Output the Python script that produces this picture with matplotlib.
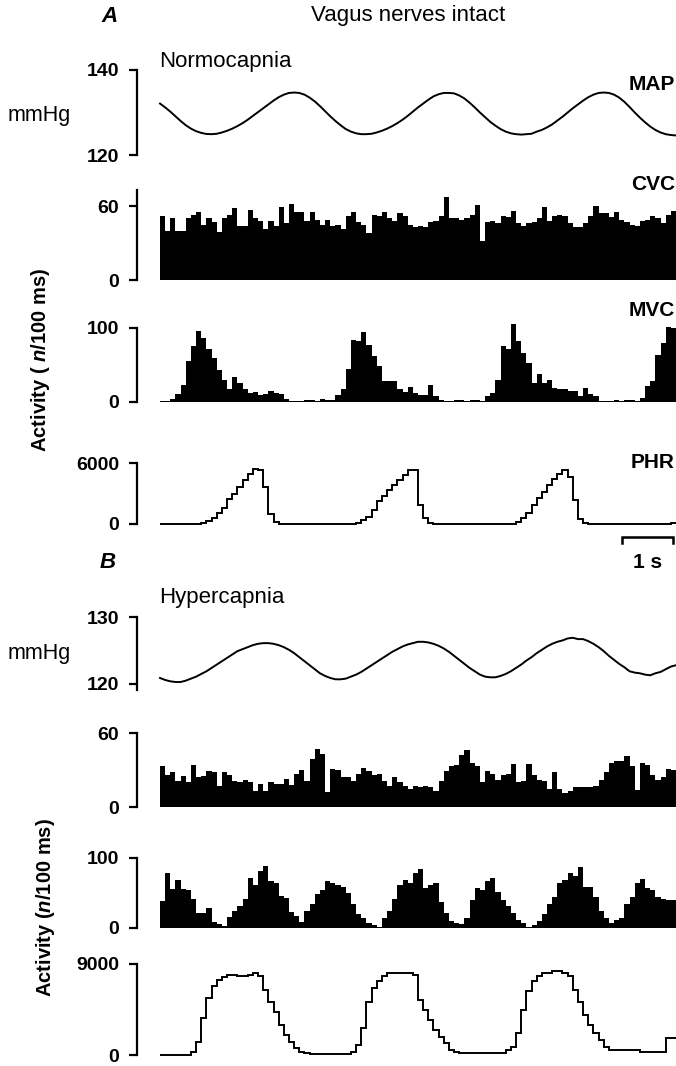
import numpy as np
import matplotlib.pyplot as plt

plt.rcParams['font.family'] = ['Liberation Sans', 'DejaVu Sans']
plt.rcParams['mathtext.fontset'] = 'custom'
plt.rcParams['mathtext.it'] = 'Liberation Sans:italic:bold'
plt.rcParams['mathtext.rm'] = 'Liberation Sans:bold'

# time base: 100 ms bins over 10 s
bin_edges = np.linspace(0, 10, 101)
t_map = np.linspace(0, 10, 101)

# A: vagus intact, normocapnia
map_a = [132.1, 131.2, 130.2, 129.1, 128.0, 127.0, 126.2, 125.6, 125.2, 124.95,
         124.9, 125.0, 125.3, 125.7, 126.2, 126.8, 127.5, 128.3, 129.2, 130.1,
         131.0, 131.9, 132.8, 133.6, 134.2, 134.6, 134.7, 134.6, 134.2, 133.5,
         132.6, 131.5, 130.3, 129.1, 128.0, 127.0, 126.1, 125.5, 125.1, 124.9,
         124.9, 125.0, 125.3, 125.7, 126.2, 126.8, 127.5, 128.3, 129.2, 130.2,
         131.2, 132.1, 133.0, 133.8, 134.3, 134.6, 134.6, 134.5, 134.0, 133.3,
         132.3, 131.2, 130.0, 128.9, 127.8, 126.9, 126.1, 125.5, 125.1, 124.9,
         124.8, 124.9, 125.0, 125.5, 125.9, 126.5, 127.2, 128.1, 129.0, 130.0,
         131.0, 131.9, 132.8, 133.6, 134.2, 134.6, 134.7, 134.6, 134.2, 133.5,
         132.5, 131.3, 130.0, 128.8, 127.7, 126.7, 125.9, 125.3, 124.9, 124.7,
         124.6]
cvc_a = [52, 40, 50, 40, 40, 50, 53, 55, 45, 50, 47, 39, 50, 53, 58, 44, 44, 57, 50, 48,
         41, 48, 44, 59, 46, 62, 55, 55, 48, 55, 49, 45, 49, 44, 45, 41, 52, 55, 47, 45,
         38, 53, 52, 55, 50, 48, 54, 52, 45, 43, 44, 43, 47, 48, 52, 67, 50, 50, 49, 50,
         53, 61, 32, 47, 48, 46, 52, 51, 56, 46, 44, 46, 47, 50, 59, 48, 52, 53, 52, 46,
         43, 43, 46, 52, 60, 54, 54, 51, 55, 49, 47, 45, 44, 48, 49, 52, 50, 46, 53, 56]
mvc_a = [1, 2, 4.5, 11, 23, 55, 75, 96, 86, 72, 59, 43, 30, 17, 34, 26, 18, 12, 13, 10,
         11, 15, 12, 11, 4, 2, 2, 2, 3, 3, 2, 4, 3, 3, 10, 17, 44, 84, 83, 95,
         77, 62, 48, 29, 28, 29, 17, 13, 20, 12, 10, 9, 23, 8, 3, 2, 2, 3, 3, 2,
         3, 3, 2, 8, 12, 30, 76, 71, 106, 82, 66, 53, 26, 38, 26, 30, 19, 18, 17, 15,
         15, 8, 19, 11, 8, 2, 2, 2, 3, 2, 3, 3, 2, 6, 21, 28, 64, 80, 102, 100]
phr_a = [0, 0, 0, 0, 0, 0, 0, 0, 60, 300, 620, 1050, 1600, 2430, 3000, 3670, 4330, 4890, 5380, 5310,
         3600, 950, 230, 30, 0, 0, 0, 0, 0, 0, 0, 0, 0, 0, 0, 0, 0, 0, 130, 390,
         720, 1370, 2250, 2740, 3330, 3800, 4300, 4800, 5280, 5350, 1900, 550, 130, 0, 0, 0, 0, 0, 0, 0,
         0, 0, 0, 0, 0, 0, 0, 0, 0, 230, 550, 1040, 1860, 2600, 3160, 3800, 4470, 4960, 5350, 4630,
         2350, 460, 130, 0, 0, 0, 0, 0, 0, 0, 0, 0, 0, 0, 0, 0, 0, 0, 0, 100]

# B: vagus intact, hypercapnia
map_b = [120.9, 120.6, 120.4, 120.3, 120.3, 120.5, 120.8, 121.1, 121.5, 121.9,
         122.4, 122.9, 123.4, 123.9, 124.4, 124.9, 125.2, 125.5, 125.8, 126.0,
         126.1, 126.1, 126.0, 125.8, 125.5, 125.1, 124.6, 124.0, 123.4, 122.8,
         122.2, 121.6, 121.2, 120.9, 120.7, 120.7, 120.8, 121.1, 121.4, 121.8,
         122.3, 122.8, 123.3, 123.8, 124.3, 124.8, 125.2, 125.6, 125.9, 126.1,
         126.3, 126.3, 126.2, 126.0, 125.7, 125.3, 124.8, 124.2, 123.6, 123.0,
         122.4, 121.9, 121.4, 121.1, 121.0, 121.0, 121.2, 121.5, 121.9, 122.4,
         122.9, 123.5, 124.0, 124.6, 125.1, 125.6, 126.0, 126.3, 126.5, 126.8,
         126.9, 126.7, 126.7, 126.4, 126.0, 125.5, 124.9, 124.2, 123.6, 123.0,
         122.5, 121.9, 121.7, 121.6, 121.4, 121.3, 121.6, 121.8, 122.2, 122.6,
         122.8]
cvc_b = [33, 26, 28, 21, 25, 20, 34, 24, 25, 29, 28, 17, 28, 26, 21, 20, 22, 20, 13, 19,
         13, 20, 19, 19, 23, 18, 27, 30, 21, 39, 47, 43, 12, 31, 30, 24, 24, 21, 27, 32,
         29, 26, 27, 21, 17, 24, 20, 17, 15, 17, 16, 17, 16, 13, 21, 29, 33, 34, 42, 46,
         36, 33, 20, 29, 27, 22, 26, 27, 35, 20, 21, 35, 26, 22, 21, 15, 28, 15, 11, 13,
         16, 16, 16, 16, 17, 22, 28, 36, 37, 37, 41, 33, 14, 36, 34, 26, 22, 24, 31, 30]
mvc_b = [39, 78, 56, 69, 56, 55, 41, 22, 22, 28, 8, 6, 3, 16, 25, 32, 42, 71, 62, 82,
         88, 67, 64, 46, 43, 23, 17, 8, 25, 34, 48, 55, 67, 64, 62, 59, 50, 35, 20, 15,
         7, 5, 2, 15, 25, 42, 62, 69, 64, 78, 84, 57, 62, 64, 37, 22, 10, 7, 6, 15,
         40, 57, 55, 67, 72, 52, 40, 32, 22, 12, 7, 2, 5, 10, 20, 35, 45, 64, 69, 79,
         74, 87, 59, 59, 45, 25, 15, 7, 12, 15, 35, 45, 64, 70, 57, 54, 45, 41, 40, 40]
phr_b = [0, 0, 0, 0, 0, 0, 330, 1320, 3640, 5625, 6780, 7440, 7710, 7940, 7940, 7840, 7840, 7940, 8100, 7775,
         6450, 5290, 4300, 2980, 1985, 1320, 660, 330, 165, 130, 100, 100, 100, 100, 100, 100, 130, 330, 990, 2650,
         5290, 6620, 7280, 7840, 8100, 8100, 8150, 8150, 8100, 7940, 5460, 4470, 3470, 2480, 1750, 1160, 500, 330, 230, 230,
         230, 230, 230, 230, 230, 230, 230, 500, 830, 2150, 4470, 6290, 7280, 7775, 8100, 8100, 8270, 8270, 8100, 7775,
         6450, 5290, 3970, 2980, 2150, 1490, 830, 500, 500, 500, 500, 500, 500, 330, 330, 330, 330, 330, 1650, 1650]

W, H = 676, 1066
fig = plt.figure(figsize=(W / 100, H / 100), dpi=100)


def add_panel(top, bottom):
    return fig.add_axes([137 / W, 1 - bottom / H, (W - 137) / W, (bottom - top) / H])


def style(ax, ylim, ticks, bounds):
    for s in ('top', 'right', 'bottom'):
        ax.spines[s].set_visible(False)
    ax.spines['left'].set_linewidth(1.6)
    ax.spines['left'].set_bounds(*bounds)
    ax.set_xlim(-0.446, 10.0)
    ax.set_ylim(*ylim)
    ax.set_xticks([])
    ax.set_yticks(ticks)
    ax.tick_params(axis='y', direction='out', length=6, width=1.6, pad=7, labelsize=14)
    for lbl in ax.get_yticklabels():
        lbl.set_fontweight('bold')
    ax.patch.set_visible(False)


def text(x, y, s, **kw):
    kw.setdefault('va', 'center')
    fig.text(x / W, 1 - y / H, s, **kw)


# ---- A ----
ax = add_panel(70, 155)
ax.plot(t_map, map_a, color='black', lw=1.4)
style(ax, (120, 140), [120, 140], (120, 140))

ax = add_panel(190, 280)
ax.stairs(cvc_a, bin_edges, fill=True, color='black', lw=0)
style(ax, (0, 73), [0, 60], (0, 73))

ax = add_panel(318, 402)
ax.stairs(mvc_a, bin_edges, fill=True, color='black', lw=0)
style(ax, (0, 113.5), [0, 100], (0, 100))

ax = add_panel(455, 524)
ax.stairs(phr_a, bin_edges, baseline=None, color='black', lw=1.4, clip_on=False)
style(ax, (0, 6787), [0, 6000], (0, 6000))
# 1 s scale bar
ax.plot([8.95, 8.95, 9.95, 9.95], [-1870, -1280, -1280, -1870], color='black', lw=1.8,
        clip_on=False, solid_joinstyle='miter')

# ---- B ----
ax = add_panel(617, 684)
ax.plot(t_map, map_b, color='black', lw=1.4)
style(ax, (120, 130), [120, 130], (119.1, 130))

ax = add_panel(733, 807)
ax.stairs(cvc_b, bin_edges, fill=True, color='black', lw=0)
style(ax, (0, 60), [0, 60], (0, 60))

ax = add_panel(858, 928)
ax.stairs(mvc_b, bin_edges, fill=True, color='black', lw=0)
style(ax, (0, 100), [0, 100], (0, 100))

ax = add_panel(964, 1055)
ax.stairs(phr_b, bin_edges, baseline=None, color='black', lw=1.4, clip_on=False)
style(ax, (0, 9000), [0, 9000], (0, 9000))

# ---- labels ----
text(110, 17, 'A', ha='center', fontsize=16, style='italic', fontweight='bold')
text(408, 16, 'Vagus nerves intact', ha='center', fontsize=16)
text(159, 62, 'Normocapnia', ha='left', fontsize=16)
text(8, 115, 'mmHg', ha='left', fontsize=15.5)
text(675, 84, 'MAP', ha='right', fontsize=15, fontweight='bold')
text(675, 185, 'CVC', ha='right', fontsize=15, fontweight='bold')
text(675, 310, 'MVC', ha='right', fontsize=15, fontweight='bold')
text(675, 463, 'PHR', ha='right', fontsize=15, fontweight='bold')
text(41, 360, r'Activity ( $\mathit{n}$/100 ms)', ha='center', rotation=90,
     fontsize=14.5, fontweight='bold')
text(648, 562, '1 s', ha='center', fontsize=15, fontweight='bold')

text(108, 563, 'B', ha='center', fontsize=16, style='italic', fontweight='bold')
text(159, 597, 'Hypercapnia', ha='left', fontsize=16)
text(8, 653, 'mmHg', ha='left', fontsize=15.5)
text(46, 908, r'Activity ($\mathit{n}$/100 ms)', ha='center', rotation=90,
     fontsize=14.5, fontweight='bold')

fig.savefig('out.png', dpi=100)
